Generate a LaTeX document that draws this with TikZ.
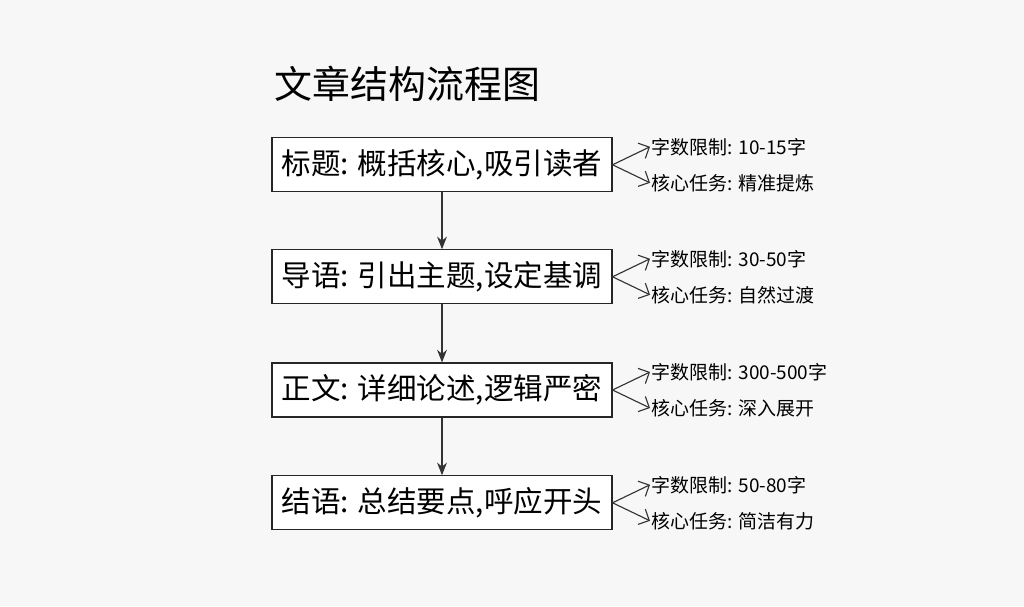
\documentclass[tikz,border=0pt]{standalone}
\usepackage{fontspec}
\newfontfamily\cjk{Noto Sans CJK SC}
\usetikzlibrary{arrows.meta,positioning}
\tikzset{
    %Define standard arrow tip
    >={Stealth[length=9pt,width=7pt]},
    %Define style for boxes
    stepbox/.style={
           rectangle,
           draw=black!85, thick,
           fill=white,
           minimum width=8.5cm,
           minimum height=1.35cm,
           inner sep=2pt,
           font=\cjk\fontsize{21}{25}\selectfont,
           text centered},
    note/.style={
           anchor=west,
           inner sep=1pt,
           font=\cjk\fontsize{13.5}{16}\selectfont},
    % Define arrow style
    pil/.style={
           ->,
           thick,
           draw=black!80},
    side/.style={
           -{Straight Barb[length=6pt]},
           thick,
           draw=black!80}
}
\begin{document}
\begin{tikzpicture}
\useasboundingbox[fill=black!3] (0,0) rectangle (25.6,15.15);
 %title
\node[anchor=west,font=\cjk\fontsize{27}{32}\selectfont] (title) at (6.75,13.05) {文章结构流程图};
 %boxes
\node[stepbox] (1) at (11.05,11.03) {标题: 概括核心,吸引读者};
\node[stepbox] (2) at (11.05,8.23) {导语: 引出主题,设定基调};
\node[stepbox] (3) at (11.05,5.40) {正文: 详细论述,逻辑严密};
\node[stepbox] (4) at (11.05,2.58) {结语: 总结要点,呼应开头};
 %notes
\node[note] (1a) at (16.25,11.48) {字数限制: 10-15字};
\node[note] (1b) at (16.25,10.58) {核心任务: 精准提炼};
\node[note] (2a) at (16.25,8.68) {字数限制: 30-50字};
\node[note] (2b) at (16.25,7.78) {核心任务: 自然过渡};
\node[note] (3a) at (16.25,5.85) {字数限制: 300-500字};
\node[note] (3b) at (16.25,4.95) {核心任务: 深入展开};
\node[note] (4a) at (16.25,3.03) {字数限制: 50-80字};
\node[note] (4b) at (16.25,2.13) {核心任务: 简洁有力};
 %arrows
\foreach \i/\j in {1/2,2/3,3/4}
    \draw[pil] (\i) -- (\j);
\foreach \i in {1,2,3,4}{
    \draw[side] (\i.east) -- (\i a.west);
    \draw[side] (\i.east) -- (\i b.west);
}
\end{tikzpicture}
\end{document}
